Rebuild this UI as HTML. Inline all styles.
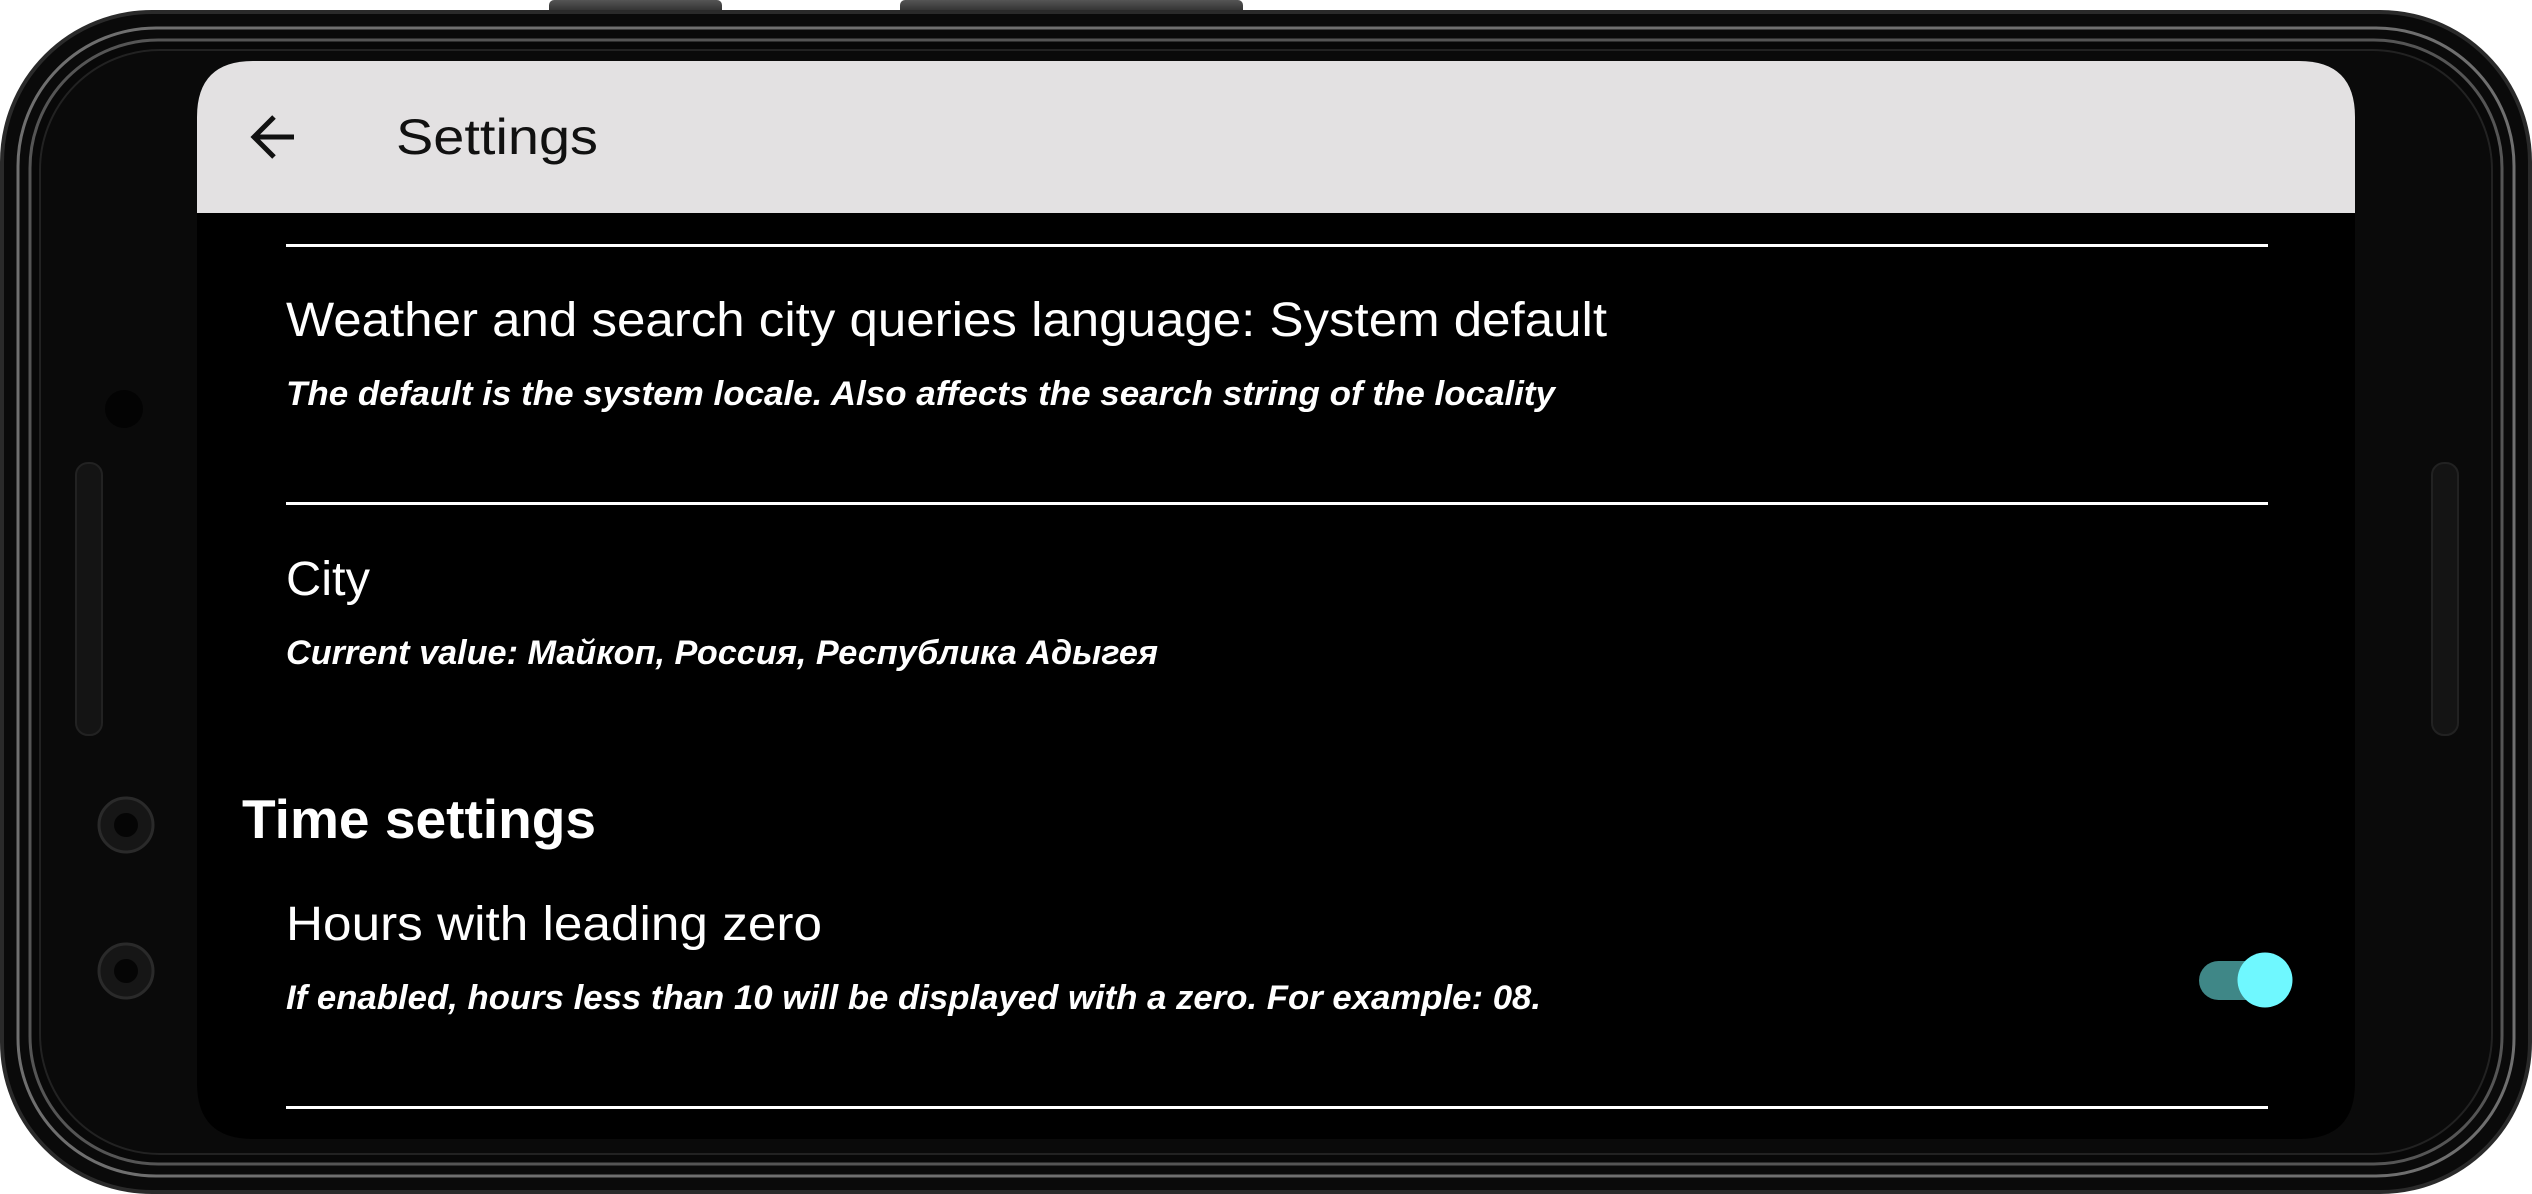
<!DOCTYPE html>
<html><head><meta charset="utf-8"><style>
html,body{margin:0;padding:0;background:#fff;width:2532px;height:1194px;overflow:hidden}
svg{display:block}
text{font-family:"Liberation Sans","DejaVu Sans",sans-serif}
</style></head><body>
<svg width="2532" height="1194" viewBox="0 0 2532 1194" xmlns="http://www.w3.org/2000/svg">
<defs>
<linearGradient id="btn" x1="0" y1="0" x2="0" y2="1"><stop offset="0" stop-color="#555"/><stop offset="1" stop-color="#222"/></linearGradient>
</defs>
<rect x="549" y="0" width="173" height="16" rx="5" fill="url(#btn)"/>
<rect x="900" y="0" width="343" height="16" rx="5" fill="url(#btn)"/>
<rect x="2" y="12" width="2528" height="1180" rx="150" fill="#0a0a0a" stroke="#2a2a2a" stroke-width="4"/>
<rect x="18" y="28" width="2496" height="1148" rx="138" fill="none" stroke="#9a9a9a" stroke-width="3" opacity="0.7"/>
<rect x="30" y="40" width="2472" height="1124" rx="128" fill="#080808" stroke="#555" stroke-width="3"/>
<rect x="40" y="50" width="2452" height="1104" rx="120" fill="#0a0a0a" stroke="#222" stroke-width="2"/>
<circle cx="124" cy="409" r="19" fill="#030303"/>
<rect x="76" y="463" width="26" height="272" rx="12" fill="#141414" stroke="#222" stroke-width="2"/>
<circle cx="126" cy="825" r="27" fill="#161616" stroke="#2a2a2a" stroke-width="3"/>
<circle cx="126" cy="825" r="12" fill="#050505"/>
<circle cx="126" cy="971" r="27" fill="#161616" stroke="#2a2a2a" stroke-width="3"/>
<circle cx="126" cy="971" r="12" fill="#050505"/>
<rect x="2432" y="463" width="26" height="272" rx="12" fill="#141414" stroke="#222" stroke-width="2"/>
<path d="M197 117 Q197 61 253 61 L2299 61 Q2355 61 2355 117 L2355 1083 Q2355 1139 2299 1139 L253 1139 Q197 1139 197 1083 Z" fill="#000"/>
<path d="M197 117 Q197 61 253 61 L2299 61 Q2355 61 2355 117 L2355 213 L197 213 Z" fill="#e3e1e2"/>
<path d="M294 137 L254 137 M274 117 L254 137 L274 157" stroke="#111" stroke-width="5" fill="none"/>
<text x="396" y="154" font-size="50" fill="#111" textLength="202" lengthAdjust="spacingAndGlyphs">Settings</text>
<rect x="286" y="244" width="1982" height="3" fill="#fff"/>
<rect x="286" y="502" width="1982" height="3" fill="#fff"/>
<rect x="286" y="1106" width="1982" height="3" fill="#fff"/>
<text x="286" y="336" font-size="48" fill="#fff" textLength="1321" lengthAdjust="spacingAndGlyphs">Weather and search city queries language: System default</text>
<text x="286" y="405" font-size="34" font-style="italic" font-weight="bold" fill="#fff" textLength="1269" lengthAdjust="spacingAndGlyphs">The default is the system locale. Also affects the search string of the locality</text>
<text x="286" y="595" font-size="48" fill="#fff" textLength="84" lengthAdjust="spacingAndGlyphs">City</text>
<text x="286" y="664" font-size="34" font-style="italic" font-weight="bold" fill="#fff" textLength="872" lengthAdjust="spacingAndGlyphs">Current value: Майкоп, Россия, Республика Адыгея</text>
<text x="242" y="838" font-size="55" font-weight="bold" fill="#fff" textLength="354" lengthAdjust="spacingAndGlyphs">Time settings</text>
<text x="286" y="940" font-size="48" fill="#fff" textLength="536" lengthAdjust="spacingAndGlyphs">Hours with leading zero</text>
<text x="286" y="1009" font-size="34" font-style="italic" font-weight="bold" fill="#fff" textLength="1255" lengthAdjust="spacingAndGlyphs">If enabled, hours less than 10 will be displayed with a zero. For example: 08.</text>
<rect x="2199" y="961" width="80" height="39" rx="19.5" fill="#3f8787"/>
<circle cx="2265" cy="980" r="27.5" fill="#6ff8ff"/>
</svg>
</body></html>
